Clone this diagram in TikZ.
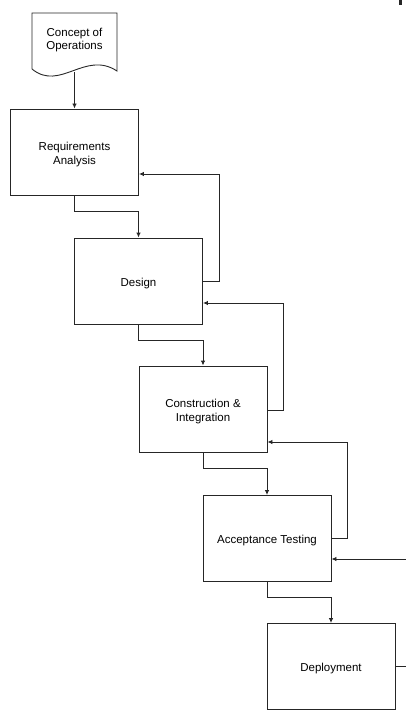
\documentclass[tikz,border=0pt]{standalone}
\usepackage{fontspec}
\setmainfont{Liberation Sans}
\usetikzlibrary{arrows.meta}
\begin{document}
\begin{tikzpicture}[x=1pt,y=-1pt,
  lbl/.style={align=center,font=\fontsize{11.5}{13.3}\selectfont,yshift=-2.5pt,inner sep=0pt},
  box/.style={draw=black!85,line width=0.9pt,minimum width=128pt,minimum height=86pt,inner sep=0pt},
  conn/.style={draw=black!85,line width=0.9pt},
  arr/.style={conn,-{Latex[length=5pt,width=4.5pt]}}]
\useasboundingbox (0,0) rectangle (406,711);
% top-right fragment
\fill[black!85] (399,0) rectangle (402,5);
% Concept of Operations document shape
\draw[conn] (32,69) -- (32,13) -- (117,13) -- (117,71) .. controls (85,50) and (60,92) .. (32,69);
\node[lbl,yshift=1pt] (conops) at (74.5,38.5) {Concept of\\Operations};
\coordinate (docb) at (74.5,72);
% boxes
\node[box,label={[lbl]center:Requirements\\Analysis}] (req) at (74.5,152) {};
\node[box,label={[lbl]center:Design}] (des) at (138.5,281) {};
\node[box,label={[lbl]center:Construction \&\\Integration}] (con) at (203,409) {};
\node[box,label={[lbl]center:Acceptance Testing}] (acc) at (267,538.5) {};
\node[box,label={[lbl]center:Deployment}] (dep) at (331,666.5) {};
% forward flow
\draw[arr] (docb) -- (req.north);
\draw[arr] (req.south) |- (138.5,211) -- (des.north);
\draw[arr] (des.south) |- (203,340) -- (con.north);
\draw[arr] (con.south) |- (267,468) -- (acc.north);
\draw[arr] (acc.south) |- (331,597) -- (dep.north);
% feedback loops
\draw[arr] (des.east) -- (219,281) |- (req.east |- 0,174);
\draw[arr] (con.east |- 0,410) -- (283,410) |- (des.east |- 0,303);
\draw[arr] (acc.east) -- (347,538.5) |- (con.east |- 0,442);
\coordinate (inr) at (406,559);
\draw[arr] (inr) -- (acc.east |- inr);
\coordinate (outr) at (406,666.5);
\draw[conn] (dep.east) -- (outr);
\end{tikzpicture}
\end{document}
